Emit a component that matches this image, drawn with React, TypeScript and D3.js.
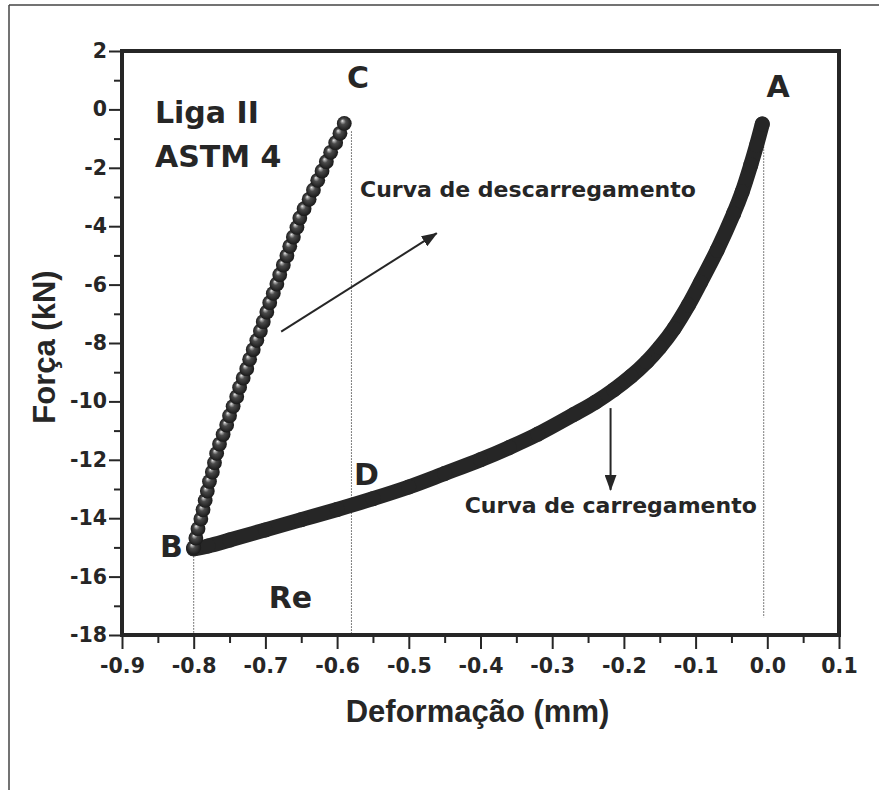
import React, { useEffect, useRef } from 'react';
import * as d3 from 'd3';

// curva de descarregamento (C -> B), pontos com marcador esférico
const unloadX = [-0.800, -0.797, -0.794, -0.790, -0.787, -0.784, -0.781, -0.778, -0.774, -0.771, -0.768, -0.764, -0.759, -0.754, -0.750, -0.745, -0.740, -0.736, -0.731, -0.726, -0.722, -0.717, -0.712, -0.707, -0.703, -0.698, -0.694, -0.689, -0.684, -0.680, -0.675, -0.670, -0.666, -0.661, -0.656, -0.652, -0.646, -0.639, -0.633, -0.627, -0.621, -0.615, -0.609, -0.602, -0.596, -0.590];
const unloadY = [-15.0, -14.68, -14.36, -14.03, -13.71, -13.39, -13.07, -12.74, -12.42, -12.1, -11.78, -11.46, -11.13, -10.81, -10.49, -10.17, -9.84, -9.52, -9.2, -8.88, -8.56, -8.23, -7.91, -7.59, -7.27, -6.94, -6.62, -6.3, -5.98, -5.66, -5.33, -5.01, -4.69, -4.37, -4.04, -3.72, -3.4, -3.08, -2.76, -2.43, -2.11, -1.79, -1.47, -1.14, -0.82, -0.48];

// curva de carregamento (B -> A)
const loadX = [-0.800, -0.780, -0.750, -0.700, -0.650, -0.600, -0.550, -0.500, -0.450, -0.400, -0.360, -0.320, -0.270, -0.240, -0.214, -0.190, -0.168, -0.150, -0.130, -0.110, -0.093, -0.070, -0.047, -0.035, -0.023, -0.015, -0.007];
const loadY = [-15.05, -14.95, -14.75, -14.40, -14.05, -13.70, -13.33, -12.93, -12.47, -12.00, -11.58, -11.12, -10.45, -10.03, -9.60, -9.14, -8.64, -8.15, -7.50, -6.70, -5.92, -4.82, -3.57, -2.82, -1.90, -1.23, -0.50];

const xTicks = [-0.9, -0.8, -0.7, -0.6, -0.5, -0.4, -0.3, -0.2, -0.1, 0.0, 0.1];
const xMinor = [-0.85, -0.75, -0.65, -0.55, -0.45, -0.35, -0.25, -0.15, -0.05, 0.05];
const yTicks = [2, 0, -2, -4, -6, -8, -10, -12, -14, -16, -18];
const yMinor = [1, -1, -3, -5, -7, -9, -11, -13, -15, -17];

// linhas pontilhadas verticais: x, y inicial, y final
const guideX = [-0.80, -0.58, -0.005];
const guideTop = [-15.3, -0.75, -0.75];
const guideBottom = [-18, -18, -17.4];

const annotations = [
  { text: 'C', x: -0.571, y: 0.72, anchor: 'middle', size: 30 },
  { text: 'A', x: 0.015, y: 0.43, anchor: 'middle', size: 30 },
  { text: 'B', x: -0.831, y: -15.33, anchor: 'middle', size: 30 },
  { text: 'D', x: -0.559, y: -12.86, anchor: 'middle', size: 30 },
  { text: 'Re', x: -0.665, y: -17.08, anchor: 'middle', size: 30 },
  { text: 'Liga II', x: -0.854, y: -0.48, anchor: 'start', size: 30 },
  { text: 'ASTM 4', x: -0.854, y: -1.96, anchor: 'start', size: 30 },
  { text: 'Curva de descarregamento', x: -0.568, y: -3.0, anchor: 'start', size: 22 },
  { text: 'Curva de carregamento', x: -0.422, y: -13.82, anchor: 'start', size: 22 },
];

// setas: início e ponta
const arrows = [
  { x1: -0.678, y1: -7.61, x2: -0.461, y2: -4.24 },
  { x1: -0.2186, y1: -10.23, x2: -0.2186, y2: -13.03 },
];

const width = 879;
const height = 790;
const ink = '#262626';

const App: React.FC = () => {
  const svgRef = useRef<SVGSVGElement>(null);

  useEffect(() => {
    document.body.style.margin = '0';
    if (!svgRef.current) return;
    const svg = d3.select(svgRef.current);
    svg.selectAll('*').remove();

    const x = d3.scaleLinear().domain([-0.9, 0.1]).range([122, 839]);
    const y = d3.scaleLinear().domain([-18, 2]).range([635, 51]);

    const defs = svg.append('defs');
    const grad = defs.append('radialGradient')
      .attr('id', 'sphere')
      .attr('cx', '50%').attr('cy', '50%').attr('r', '52%')
      .attr('fx', '36%').attr('fy', '32%');
    grad.append('stop').attr('offset', '0%').attr('stop-color', '#f4f4f4');
    grad.append('stop').attr('offset', '12%').attr('stop-color', '#b0b0b0');
    grad.append('stop').attr('offset', '38%').attr('stop-color', '#4a4a4a');
    grad.append('stop').attr('offset', '100%').attr('stop-color', '#161616');

    defs.append('marker')
      .attr('id', 'head')
      .attr('viewBox', '0 0 16 12')
      .attr('refX', 15).attr('refY', 6)
      .attr('markerWidth', 16).attr('markerHeight', 12)
      .attr('markerUnits', 'userSpaceOnUse')
      .attr('orient', 'auto')
      .append('path')
      .attr('d', 'M0,0 L16,6 L0,12 Z')
      .attr('fill', ink);

    // moldura externa
    svg.append('line').attr('x1', 9).attr('y1', 5).attr('x2', width).attr('y2', 5)
      .attr('stroke', '#444').attr('stroke-width', 1.5);
    svg.append('line').attr('x1', 9).attr('y1', 5).attr('x2', 9).attr('y2', height)
      .attr('stroke', '#444').attr('stroke-width', 1.5);

    // linhas pontilhadas
    guideX.forEach((gx, i) => {
      svg.append('line')
        .attr('x1', x(gx)).attr('x2', x(gx))
        .attr('y1', y(guideTop[i])).attr('y2', y(guideBottom[i]))
        .attr('stroke', '#555').attr('stroke-width', 1)
        .attr('stroke-dasharray', '1.5,1.5');
    });

    // eixos
    const tickFont = 'DejaVu Sans, sans-serif';
    const gx = svg.append('g').attr('transform', `translate(0,${y(-18)})`)
      .call(d3.axisBottom(x).tickValues(xTicks).tickSize(14).tickPadding(9)
        .tickFormat(d => (+d).toFixed(1)));
    svg.append('g').attr('transform', `translate(0,${y(-18)})`)
      .call(d3.axisBottom(x).tickValues(xMinor).tickSize(8).tickFormat(() => ''))
      .select('.domain').remove();
    const gy = svg.append('g').attr('transform', `translate(${x(-0.9)},0)`)
      .call(d3.axisLeft(y).tickValues(yTicks).tickSize(13).tickPadding(2)
        .tickFormat(d => String(d)));
    svg.append('g').attr('transform', `translate(${x(-0.9)},0)`)
      .call(d3.axisLeft(y).tickValues(yMinor).tickSize(8).tickFormat(() => ''))
      .select('.domain').remove();
    gx.select('.domain').remove();
    gy.select('.domain').remove();
    svg.selectAll('.tick line').attr('stroke', ink).attr('stroke-width', 2);
    svg.selectAll('.tick text')
      .attr('fill', ink)
      .attr('font-family', tickFont)
      .attr('font-weight', 'bold')
      .attr('font-size', 20.5);

    svg.append('rect')
      .attr('x', x(-0.9)).attr('y', y(2))
      .attr('width', x(0.1) - x(-0.9)).attr('height', y(-18) - y(2))
      .attr('fill', 'none').attr('stroke', ink).attr('stroke-width', 4);

    // títulos dos eixos
    svg.append('text')
      .attr('x', (x(-0.9) + x(0.1)) / 2 - 3).attr('y', 722)
      .attr('text-anchor', 'middle')
      .attr('font-family', 'Liberation Sans, Arial, sans-serif')
      .attr('font-weight', 'bold').attr('font-size', 31)
      .attr('fill', ink)
      .text('Deformação (mm)');
    svg.append('text')
      .attr('transform', `translate(55,${347}) rotate(-90)`)
      .attr('text-anchor', 'middle')
      .attr('font-family', 'Liberation Sans, Arial, sans-serif')
      .attr('font-weight', 'bold').attr('font-size', 31)
      .attr('fill', ink)
      .text('Força (kN)');

    // curva de carregamento
    const loadPts = loadX.map((v, i) => [v, loadY[i]] as [number, number]);
    svg.append('path')
      .datum(loadPts)
      .attr('fill', 'none')
      .attr('stroke', ink)
      .attr('stroke-width', 15)
      .attr('stroke-linecap', 'round')
      .attr('stroke-linejoin', 'round')
      .attr('d', d3.line<[number, number]>()
        .x(d => x(d[0]))
        .y(d => y(d[1]))
        .curve(d3.curveCatmullRom.alpha(0.5)));
    svg.append('g').selectAll('circle')
      .data(loadPts)
      .join('circle')
      .attr('cx', d => x(d[0]))
      .attr('cy', d => y(d[1]))
      .attr('r', 7.5)
      .attr('fill', ink);

    // curva de descarregamento
    const unloadPts = unloadX.map((v, i) => [v, unloadY[i]] as [number, number]);
    svg.append('g').selectAll('circle')
      .data(unloadPts)
      .join('circle')
      .attr('cx', d => x(d[0]))
      .attr('cy', d => y(d[1]))
      .attr('r', 7.4)
      .attr('fill', 'url(#sphere)');

    // setas
    arrows.forEach(a => {
      svg.append('line')
        .attr('x1', x(a.x1)).attr('y1', y(a.y1))
        .attr('x2', x(a.x2)).attr('y2', y(a.y2))
        .attr('stroke', ink).attr('stroke-width', 2)
        .attr('marker-end', 'url(#head)');
    });

    // anotações
    annotations.forEach(n => {
      svg.append('text')
        .attr('x', x(n.x)).attr('y', y(n.y))
        .attr('text-anchor', n.anchor)
        .attr('font-family', 'DejaVu Sans, sans-serif')
        .attr('font-weight', 'bold')
        .attr('font-size', n.size)
        .attr('fill', ink)
        .text(n.text);
    });
  }, []);

  return <svg ref={svgRef} width={width} height={height} style={{ display: 'block', background: '#fff' }} />;
};

export default App;
